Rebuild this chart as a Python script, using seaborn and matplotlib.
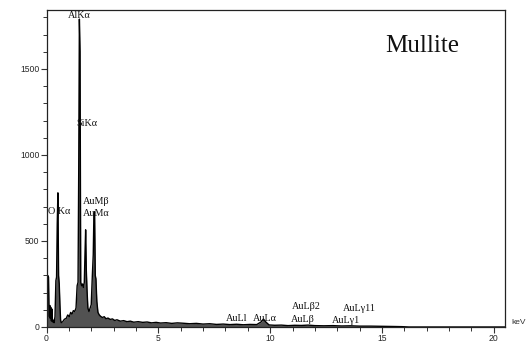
import matplotlib
matplotlib.use("Agg")
import matplotlib.pyplot as plt
import seaborn as sns
import pandas as pd
from matplotlib.ticker import MultipleLocator

energy = [0.00, 0.05, 0.09, 0.11, 0.13, 0.15, 0.17, 0.19, 0.22, 0.24, 0.27, 0.30, 0.34, 0.38,
          0.42, 0.45, 0.48, 0.51, 0.54, 0.57, 0.60, 0.63, 0.66, 0.72, 0.80, 0.88, 0.95, 1.02,
          1.08, 1.14, 1.20, 1.26, 1.32, 1.37, 1.41, 1.44, 1.47, 1.50, 1.53, 1.57, 1.61, 1.65,
          1.69, 1.72, 1.75, 1.78, 1.81, 1.85, 1.90, 1.95, 2.00, 2.05, 2.09, 2.12, 2.15, 2.18,
          2.21, 2.25, 2.30, 2.36, 2.42, 2.50, 2.58, 2.66, 2.75, 2.85, 2.95, 3.05, 3.15, 3.30,
          3.45, 3.60, 3.75, 3.90, 4.10, 4.30, 4.50, 4.70, 4.90, 5.10, 5.35, 5.60, 5.85, 6.10,
          6.40, 6.70, 7.00, 7.30, 7.60, 7.90, 8.20, 8.50, 8.80, 9.10, 9.40, 9.60, 9.70, 9.80,
          9.95, 10.20, 10.50, 10.80, 11.10, 11.40, 11.70, 12.00, 12.40, 12.80, 13.20, 13.60,
          14.00, 14.50, 15.00, 15.50, 15.90, 16.20, 17.00, 18.00, 19.00, 20.00, 20.50]
counts = [0, 300, 290, 120, 60, 125, 50, 115, 35, 105, 30, 40, 25, 60,
          270, 290, 600, 780, 300, 250, 130, 40, 25, 30, 45, 50, 70, 60,
          85, 75, 95, 90, 110, 240, 260, 900, 1790, 1600, 260, 240, 250, 230,
          260, 420, 565, 330, 220, 110, 90, 110, 130, 300, 420, 660, 670, 300,
          280, 150, 85, 70, 62, 55, 60, 48, 52, 44, 47, 38, 42, 34,
          37, 31, 34, 28, 31, 27, 29, 24, 27, 23, 25, 21, 24, 22,
          19, 21, 17, 19, 15, 17, 14, 16, 13, 15, 14, 30, 46, 30,
          12, 10, 11, 8, 10, 9, 11, 8, 7, 8, 6, 7,
          5, 5, 4, 3, 2, 0, 0, 0, 0, 0, 0]

labels = ["AlKα", "SiKα", "O Kα", "AuMβ", "AuMα", "AuLl", "AuLα", "AuLβ2", "AuLβ", "AuLγ11", "AuLγ1"]
label_x = [1.47, 1.79, 0.58, 2.22, 2.22, 8.50, 9.78, 11.62, 11.45, 14.00, 13.38]
label_y = [1810, 1185, 670, 730, 660, 48, 50, 118, 42, 108, 36]

sample = "Mullite"
x_ticks = [0, 5, 10, 15, 20]
y_ticks = [0, 500, 1000, 1500]

df = pd.DataFrame({"energy": energy, "counts": counts})

sns.set_theme(style="ticks")
plt.rcParams["font.family"] = ["Liberation Sans", "DejaVu Sans"]

fig = plt.figure(figsize=(5.32, 3.43), dpi=100)
ax = fig.add_axes([46.5 / 532, 1 - 327 / 343, (505 - 46.5) / 532, (327 - 10) / 343])

ax.fill_between(df["energy"], 0, df["counts"], color="#525252", linewidth=0)
sns.lineplot(data=df, x="energy", y="counts", ax=ax, color="black", linewidth=1.0)

ax.set_xlim(0, 20.5)
ax.set_ylim(0, 1843)
ax.set_xticks(x_ticks)
ax.set_yticks(y_ticks)
ax.xaxis.set_minor_locator(MultipleLocator(1))
ax.yaxis.set_minor_locator(MultipleLocator(100))
ax.tick_params(axis="both", which="major", direction="out", length=4, width=0.8,
               labelsize=6.2, color="#333333", pad=1)
ax.tick_params(axis="both", which="minor", direction="out", length=3, width=0.7, color="#333333")
ax.set_xlabel("")
ax.set_ylabel("")
for s in ax.spines.values():
    s.set_visible(True)
    s.set_color("#222222")
    s.set_linewidth(0.9)

for t, x, y in zip(labels, label_x, label_y):
    ax.text(x, y, t, ha="center", va="center", fontsize=7.3,
            family=["Liberation Serif", "DejaVu Serif"], color="#111111")

ax.text(0.82, 0.885, sample, transform=ax.transAxes, ha="center", va="center",
        fontsize=18, family=["Liberation Serif", "DejaVu Serif"], color="#111111")

fig.text(511 / 532, 1 - 323 / 343, "keV", ha="left", va="center", fontsize=6, color="#333333")

fig.savefig("out.png", dpi=100)
